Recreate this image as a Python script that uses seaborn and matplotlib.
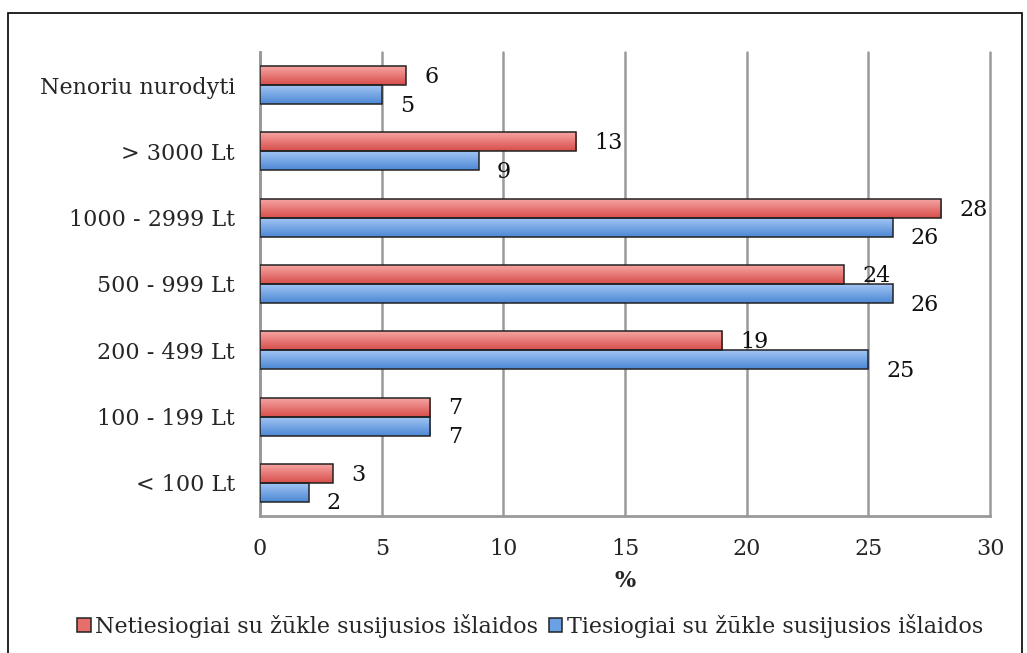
import seaborn as sns
import matplotlib.pyplot as plt
import pandas as pd
import numpy as np
from matplotlib.patches import Rectangle
from matplotlib.colors import LinearSegmentedColormap

# Duomenys
categories = ['Nenoriu nurodyti', '> 3000 Lt', '1000 - 2999 Lt', '500 - 999 Lt',
              '200 - 499 Lt', '100 - 199 Lt', '< 100 Lt']
netiesiogiai = [6, 13, 28, 24, 19, 7, 3]
tiesiogiai = [5, 9, 26, 26, 25, 7, 2]
series_names = ['Netiesiogiai su žūkle susijusios išlaidos',
                'Tiesiogiai su žūkle susijusios išlaidos']
x_ticks = [0, 5, 10, 15, 20, 25, 30]

df = pd.DataFrame({
    'Kategorija': categories * 2,
    'Reikšmė': netiesiogiai + tiesiogiai,
    'Serija': [series_names[0]] * len(categories) + [series_names[1]] * len(categories),
})

sns.set_style('white')
plt.rcParams['font.family'] = ['DejaVu Serif']

fig = plt.figure(figsize=(10.27, 6.53), dpi=100)
ax = fig.add_axes([0.2532, 0.2098, 0.7108, 0.7106])

colors = ['#E86E6C', '#6AA0E4']
sns.barplot(data=df, x='Reikšmė', y='Kategorija', hue='Serija', order=categories,
            hue_order=series_names, palette=colors, orient='h', width=0.575,
            edgecolor='#222222', linewidth=1.1, saturation=1, ax=ax, zorder=3)

ax.set_xlim(0, 30)
ax.set_ylim(len(categories) - 0.5, -0.5)

# gradientas stulpeliuose (Excel stilius)
gradients = [('#F7A9A7', '#D84E4B'), ('#A6C8F5', '#4C88D5')]
grad = np.linspace(0, 1, 50).reshape(-1, 1)
for cont, (c1, c2) in zip(ax.containers, gradients):
    cmap = LinearSegmentedColormap.from_list('g', [c1, c2])
    for bar in cont:
        x0, y0 = bar.get_x(), bar.get_y()
        w, h = bar.get_width(), bar.get_height()
        im = ax.imshow(grad, cmap=cmap, aspect='auto', extent=(x0, x0 + w, y0 + h, y0),
                       zorder=3.5, interpolation='bicubic')
        im.set_clip_path(bar)
        bar.set_zorder(4)
        bar.set_facecolor('none')
ax.set_xlim(0, 30)
ax.set_ylim(len(categories) - 0.5, -0.5)

# reikšmių etiketės
offsets = [-1, -8]
for cont, dy in zip(ax.containers, offsets):
    for bar in cont:
        w = bar.get_width()
        yc = bar.get_y() + bar.get_height() / 2
        ax.annotate(f'{w:.0f}', xy=(w, yc), xytext=(13, dy), textcoords='offset points',
                    ha='left', va='center', fontsize=16, color='#111111')

ax.set_xticks(x_ticks)
ax.set_xticklabels([str(t) for t in x_ticks])
ax.set_xlabel('%', fontsize=16, fontweight='bold', labelpad=7)
ax.set_ylabel('')
ax.tick_params(axis='x', labelsize=16, length=6, width=1.5, color='#888888', direction='out', pad=10)
ax.tick_params(axis='y', which='major', labelsize=16, length=0, pad=18)
ax.set_yticks([i + 0.5 for i in range(-1, len(categories))], minor=True)
ax.tick_params(axis='y', which='minor', length=8, width=1.5, color='#888888', direction='out')

ax.grid(axis='x', color='#9a9a9a', linewidth=1.8, zorder=0)
ax.set_axisbelow(True)
for gl in ax.get_xgridlines():
    gl.set_clip_on(False)
for s in ['top', 'right']:
    ax.spines[s].set_visible(False)
for s in ['left', 'bottom']:
    ax.spines[s].set_color('#999999')
    ax.spines[s].set_linewidth(2)

ax.legend(loc='center', bbox_to_anchor=(0.37, -0.237), ncol=2, frameon=False,
          fontsize=16, handlelength=0.6, handleheight=0.6, handletextpad=0.2,
          columnspacing=0.5)

fig.patches.append(Rectangle((8 / 1027, -0.02), 1014 / 1027, 1 - 13 / 653 + 0.02,
                             transform=fig.transFigure, fill=False, edgecolor='black',
                             linewidth=1.2))

fig.savefig('out.png', dpi=100)
